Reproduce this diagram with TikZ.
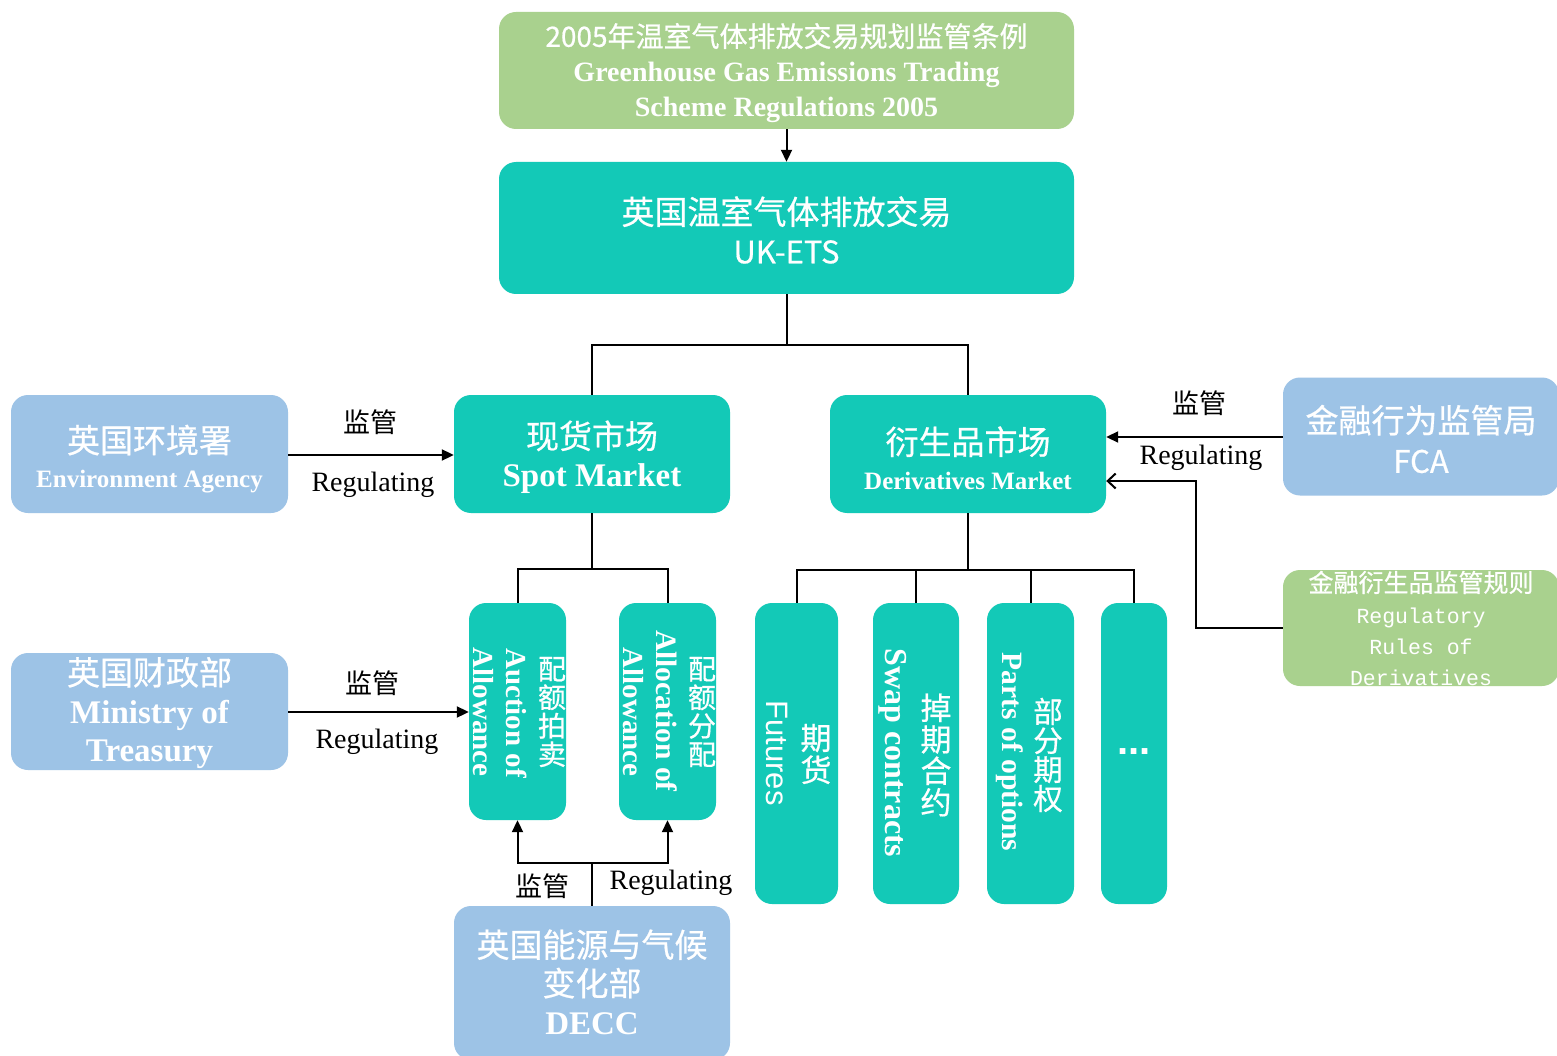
\documentclass[tikz,border=0pt]{standalone}
\usepackage{fontspec}
\setmainfont{Liberation Serif}
\newfontfamily\cjk[FakeBold=0.6]{Noto Sans CJK SC}
\newfontfamily\cjkl{Noto Sans CJK SC}
\newfontfamily\monof{Liberation Mono}
\newfontfamily\arialf{Liberation Sans}
\usetikzlibrary{arrows.meta}
\newcommand\myfs[2]{\fontsize{#1}{#2}\selectfont}
\definecolor{tealbox}{RGB}{19,201,183}
\definecolor{bluebox}{RGB}{157,195,230}
\definecolor{greenbox}{RGB}{169,209,142}
\tikzset{
  box/.style={rounded corners=17pt, inner sep=0pt},
  tealb/.style={box, fill=tealbox},
  blueb/.style={box, fill=bluebox},
  greenb/.style={box, fill=greenbox},
  txt/.style={inner sep=0pt, text=white, align=center},
  conn/.style={line width=2pt, black},
  arr/.style={conn, -{Triangle[length=12pt,width=11pt]}},
  openarr/.style={conn, -{Straight Barb[length=8pt,width=15pt,line width=2pt]}},
  lab/.style={inner sep=0pt, text=black},
  vtxt/.style={inner sep=0pt, text=white, rotate=-90},
  vcjk/.style={inner sep=0pt, text=white, align=center},
}
\begin{document}
\begin{tikzpicture}[x=1pt,y=-1pt]
\useasboundingbox[fill=white] (0,0) rectangle (1557,1056);

% boxes
\node[greenb, minimum width=575pt, minimum height=117pt] (top) at (786.5,70.5) {};
\node[tealb, minimum width=575pt, minimum height=132pt] (ets) at (786.5,228) {};
\node[tealb, minimum width=276pt, minimum height=118pt] (spot) at (592,454) {};
\node[tealb, minimum width=276pt, minimum height=118pt] (deriv) at (968,454) {};
\node[blueb, minimum width=277pt, minimum height=118pt] (env) at (149.5,454) {};
\node[blueb, minimum width=277pt, minimum height=117pt] (min) at (149.5,711.5) {};
\node[blueb, minimum width=276pt, minimum height=118pt] (fca) at (1421,436.5) {};
\node[greenb, minimum width=276pt, minimum height=116pt] (rules) at (1421,628) {};
\node[blueb, minimum width=276pt, minimum height=154pt] (decc) at (592,983) {};
\node[tealb, minimum width=97pt, minimum height=217pt] (auc) at (517.5,711.5) {};
\node[tealb, minimum width=97pt, minimum height=217pt] (alo) at (667.5,711.5) {};
\node[tealb, minimum width=83pt, minimum height=301pt] (fut) at (796.5,753.5) {};
\node[tealb, minimum width=86pt, minimum height=301pt] (swap) at (916,753.5) {};
\node[tealb, minimum width=87pt, minimum height=301pt] (opt) at (1030.5,753.5) {};
\node[tealb, minimum width=66pt, minimum height=301pt] (dots) at (1134,753.5) {};

% box texts
\node[txt, font=\myfs{28}{35}] (topt) at (786.5,73)
  {{\cjk 2005年温室气体排放交易规划监管条例}\\{\bfseries Greenhouse Gas Emissions Trading}\\{\bfseries Scheme Regulations 2005}};
\node[txt, font=\cjk\myfs{33}{39}] (etst) at (786.5,230)
  {英国温室气体排放交易\\{\myfs{31}{39}UK-ETS}};
\node[txt, font=\myfs{33}{38}] (spott) at (592,457)
  {{\cjk 现货市场}\\{\bfseries Spot Market}};
\node[txt, font=\myfs{33}{35}] (derivt) at (968,458)
  {{\cjk 衍生品市场}\\{\myfs{25}{35}\bfseries Derivatives Market}};
\node[txt, font=\myfs{33}{35}] (envt) at (149.5,459)
  {{\cjk 英国环境署}\\{\myfs{25}{35}\bfseries Environment Agency}};
\node[txt, font=\myfs{33}{38.5}] (mint) at (149.5,713)
  {{\cjk 英国财政部}\\{\bfseries Ministry of}\\{\bfseries Treasury}};
\node[txt, font=\cjk\myfs{33}{40}] (fcat) at (1421,439)
  {金融行为监管局\\{\myfs{31}{40}FCA}};
\node[txt, font=\myfs{25}{31}] (rulest) at (1421,628)
  {{\cjk 金融衍生品监管规则}\\{\monof\myfs{21.5}{31}Regulatory}\\{\monof\myfs{21.5}{31}Rules of}\\{\monof\myfs{21.5}{31}Derivatives}};
\node[txt, font=\myfs{33}{38.5}] (decct) at (592,982)
  {{\cjk 英国能源与气候}\\{\cjk 变化部}\\{\bfseries DECC}};

% vertical texts
\node[vcjk, font=\cjk\myfs{28}{28.5}] (aucc) at (552,712) {配\\额\\拍\\卖};
\node[vtxt, font=\bfseries\myfs{29}{29}] (auce1) at (517,713) {Auction of};
\node[vtxt, font=\bfseries\myfs{29}{29}] (auce2) at (483,712) {Allowance};
\node[vcjk, font=\cjk\myfs{28}{28.5}] (aloc) at (702,712) {配\\额\\分\\配};
\node[vtxt, font=\bfseries\myfs{29.5}{29}] (aloe1) at (667,711) {Allocation of};
\node[vtxt, font=\bfseries\myfs{29}{29}] (aloe2) at (633,712) {Allowance};
\node[vcjk, font=\cjk\myfs{31}{32}] (futc) at (816,754) {期\\货};
\node[vtxt, font=\arialf\myfs{31}{31}] (fute) at (777,753) {Futures};
\node[vcjk, font=\cjk\myfs{31}{31.5}] (swapc) at (936,755) {掉\\期\\合\\约};
\node[vtxt, font=\bfseries\myfs{32}{32}] (swape) at (893,753) {Swap contracts};
\node[vcjk, font=\cjk\myfs{29.5}{29}] (optc) at (1048,755) {部\\分\\期\\权};
\node[vtxt, font=\bfseries\myfs{29.5}{29.5}] (opte) at (1010,752) {Parts of options};
\node[inner sep=0pt, text=white, font=\arialf\bfseries\myfs{40}{40}] (dotst) at (1134,752) {...};

% connectors
\draw[arr] (top.south) -- (ets.north);
\coordinate (j1) at (ets.south |- 0,345);
\draw[conn] (ets.south) -- (j1);
\draw[conn] (j1) -| (spot.north);
\draw[conn] (j1) -| (deriv.north);
\draw[arr] (env.east |- 0,455) -- (spot.west |- 0,455);
\draw[arr] (min.east |- 0,712) -- (auc.west |- 0,712);
\coordinate (j2) at (spot.south |- 0,569);
\draw[conn] (spot.south) -- (j2);
\draw[conn] (j2) -| (auc.north);
\draw[conn] (j2) -| (alo.north);
\coordinate (j3) at (deriv.south |- 0,570);
\draw[conn] (deriv.south) -- (j3);
\draw[conn] (j3) -| (fut.north);
\draw[conn] (j3) -| (swap.north);
\draw[conn] (j3) -| (opt.north);
\draw[conn] (j3) -| (dots.north);
\draw[arr] (fca.west |- 0,437) -- (deriv.east |- 0,437);
\coordinate (r1) at (1196,628);
\draw[openarr] (rules.west |- r1) -- (r1) |- (deriv.east |- 0,481);
\coordinate (j4) at (decc.north |- 0,863);
\draw[conn] (decc.north) -- (j4);
\draw[arr] (j4) -| (auc.south);
\draw[arr] (j4) -| (alo.south);

% labels
\node[lab, font=\cjkl\myfs{27}{27}] (l1) at (370,422) {监管};
\node[lab, font=\myfs{28}{28}] (r1l) at (373,485) {Regulating};
\node[lab, font=\cjkl\myfs{27}{27}] (l2) at (372,683) {监管};
\node[lab, font=\myfs{28}{28}] (r2l) at (377,742) {Regulating};
\node[lab, font=\cjkl\myfs{27}{27}] (l3) at (1199,403) {监管};
\node[lab, font=\myfs{28}{28}] (r3l) at (1201,458) {Regulating};
\node[lab, font=\cjkl\myfs{27}{27}] (l4) at (542,886) {监管};
\node[lab, font=\myfs{28}{28}] (r4l) at (671,883) {Regulating};
\end{tikzpicture}
\end{document}
